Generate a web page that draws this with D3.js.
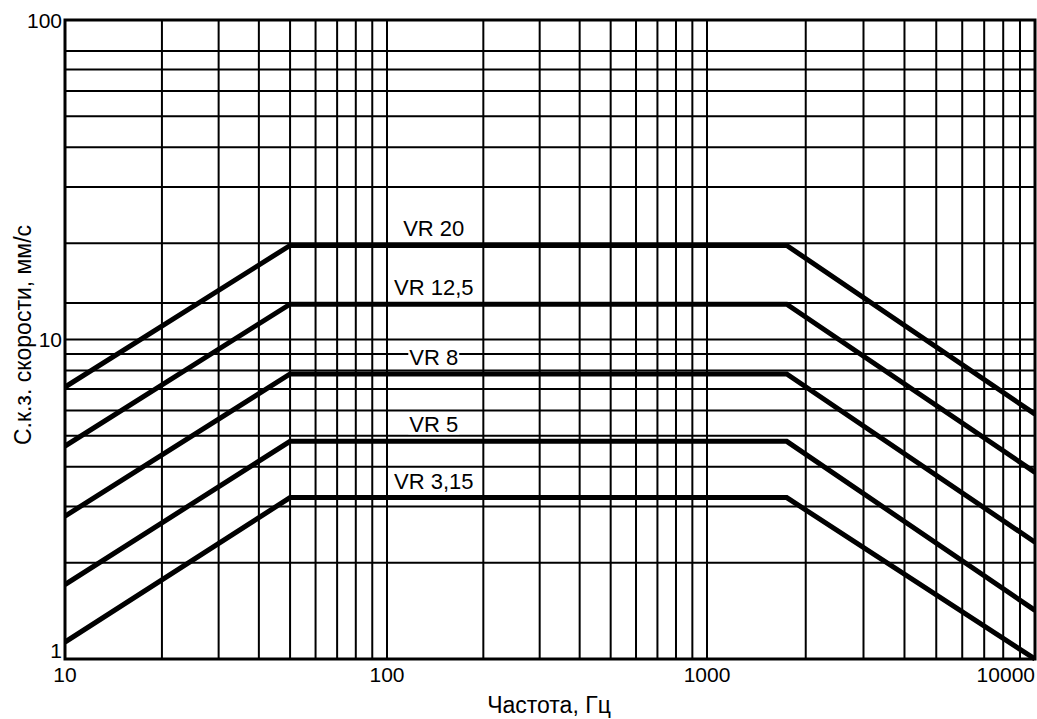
<!DOCTYPE html>
<html>
<head>
<meta charset="utf-8">
<script src="https://cdn.jsdelivr.net/npm/d3@7"></script>
<style>
  html, body { margin: 0; padding: 0; background: #fff; }
  svg { display: block; }
  text { font-family: "Liberation Sans", Arial, Helvetica, sans-serif; fill: #000; }
</style>
</head>
<body>
<svg id="chart" width="1037" height="719"></svg>
<script>
// ---- data ----
const freqs = [10, 50, 1750, 10000];
const seriesNames = ["VR 20", "VR 12,5", "VR 8", "VR 5", "VR 3,15"];
const vr20  = [7.1, 19.7, 19.7, 5.84];
const vr125 = [4.64, 12.9, 12.9, 3.84];
const vr8   = [2.80, 7.8, 7.8, 2.32];
const vr5   = [1.71, 4.8, 4.8, 1.42];
const vr315 = [1.13, 3.2, 3.2, 1.0];
const seriesValues = [vr20, vr125, vr8, vr5, vr315];
const labelFreq = 140;

const xGridValues = [20,30,40,50,60,70,80,90,100,200,300,400,500,600,700,800,900,1000,2000,3000,4000,5000,6000,7000,8000,9000];
const yGridValues = [2,3,4,5,6,7,8,9,10,13,20,30,40,50,60,70,80];
const xTickValues = [10, 100, 1000, 10000];
const xTickLabels = ["10", "100", "1000", "10000"];
const yTickValues = [1, 10, 100];
const yTickLabels = ["1", "10", "100"];
const xTitle = "Частота, Гц";
const yTitle = "С.к.з. скорости, мм/с";

// ---- scales ----
const x = d3.scaleLog().domain([10, 100, 1000, 10000]).range([65, 387, 707, 1035]);
const y = d3.scaleLog().domain([1, 100]).range([659, 20]);

const svg = d3.select("#chart");

// grid
svg.append("g").selectAll("line").data(xGridValues).join("line")
  .attr("x1", d => x(d)).attr("x2", d => x(d))
  .attr("y1", y(100)).attr("y2", y(1))
  .attr("stroke", "#000").attr("stroke-width", 2);
svg.append("g").selectAll("line").data(yGridValues).join("line")
  .attr("x1", x(10)).attr("x2", x(10000))
  .attr("y1", d => y(d)).attr("y2", d => y(d))
  .attr("stroke", "#000").attr("stroke-width", 2);

// frame
svg.append("rect")
  .attr("x", x(10)).attr("y", y(100))
  .attr("width", x(10000) - x(10)).attr("height", y(1) - y(100))
  .attr("fill", "none").attr("stroke", "#000").attr("stroke-width", 3);

// clip
svg.append("clipPath").attr("id", "plotclip").append("rect")
  .attr("x", x(10)).attr("y", y(100))
  .attr("width", x(10000) - x(10)).attr("height", y(1) - y(100) + 2);

// curves
const line = d3.line().x((d, i) => x(freqs[i])).y(d => y(d));
svg.append("g").attr("clip-path", "url(#plotclip)")
  .selectAll("path").data(seriesValues).join("path")
  .attr("d", d => line(d))
  .attr("fill", "none").attr("stroke", "#000").attr("stroke-width", 5)
  .attr("stroke-linejoin", "miter");

// curve labels with white background
const labG = svg.append("g");
seriesNames.forEach((name, i) => {
  const g = labG.append("g");
  const t = g.append("text")
    .attr("x", x(labelFreq)).attr("y", y(seriesValues[i][1]) - 9)
    .attr("text-anchor", "middle").attr("font-size", 22).text(name);
  const bb = t.node().getBBox();
  g.insert("rect", "text")
    .attr("x", bb.x - 1).attr("y", bb.y + 3)
    .attr("width", bb.width + 2).attr("height", bb.height - 6)
    .attr("fill", "#fff");
});

// x tick labels
svg.append("g").selectAll("text").data(xTickValues).join("text")
  .attr("x", (d, i) => i === xTickValues.length - 1 ? x(d) : x(d))
  .attr("y", 682)
  .attr("text-anchor", (d, i) => i === xTickValues.length - 1 ? "end" : "middle")
  .attr("font-size", 21)
  .text((d, i) => xTickLabels[i]);

// y tick labels
svg.append("g").selectAll("text").data(yTickValues).join("text")
  .attr("x", 62)
  .attr("y", (d, i) => i === 0 ? y(d) - 1 : y(d) + 7.5)
  .attr("text-anchor", "end")
  .attr("font-size", 21)
  .text((d, i) => yTickLabels[i]);

// titles
svg.append("text")
  .attr("x", 549).attr("y", 713)
  .attr("text-anchor", "middle").attr("font-size", 23)
  .text(xTitle);
svg.append("text")
  .attr("transform", "translate(31,335) rotate(-90)")
  .attr("text-anchor", "middle").attr("font-size", 23)
  .text(yTitle);
</script>
</body>
</html>
